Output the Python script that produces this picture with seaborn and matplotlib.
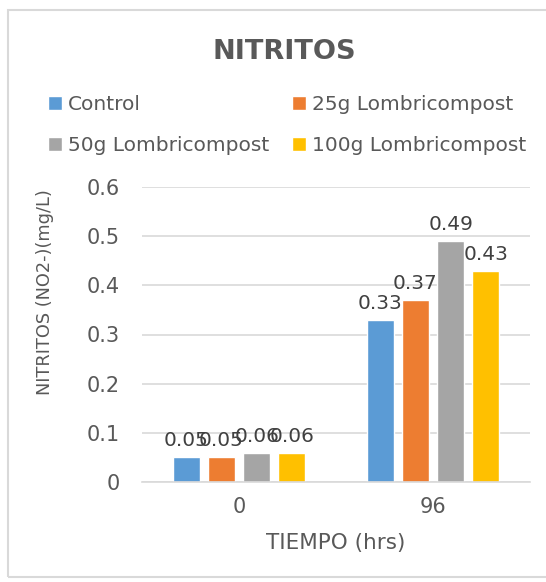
import matplotlib
matplotlib.use("Agg")
import matplotlib.pyplot as plt
import matplotlib.patches as mpatches
import pandas as pd
import seaborn as sns

# Chart data
tiempos = ["0", "96"]
series = ["Control", "25g Lombricompost", "50g Lombricompost", "100g Lombricompost"]
control = [0.05, 0.33]
lombri_25 = [0.05, 0.37]
lombri_50 = [0.06, 0.49]
lombri_100 = [0.06, 0.43]
y_ticks = [0, 0.1, 0.2, 0.3, 0.4, 0.5, 0.6]
colors = ["#5B9BD5", "#ED7D31", "#A5A5A5", "#FFC000"]

values = [control, lombri_25, lombri_50, lombri_100]
df = pd.DataFrame(
    [(t, s, v[i]) for s, v in zip(series, values) for i, t in enumerate(tiempos)],
    columns=["tiempo", "serie", "valor"],
)

sns.set_theme(style="white")
plt.rcParams["font.family"] = ["DejaVu Sans"]

W, H = 546, 582
fig = plt.figure(figsize=(W / 100, H / 100), dpi=100)
fig.patch.set_facecolor("white")
ax = fig.add_axes([142 / W, 1 - 482 / H, (530 - 142) / W, (482 - 187) / H])

sns.barplot(
    data=df, x="tiempo", y="valor", hue="serie", order=tiempos, hue_order=series,
    palette=colors, width=0.728, gap=0.236, saturation=1, ax=ax, legend=True,
)

handles, labels = ax.get_legend_handles_labels()
ax.get_legend().remove()

# Value labels above each bar
for cont in ax.containers:
    ax.bar_label(cont, labels=[f"{v:g}" for v in cont.datavalues], padding=5,
                 fontsize=14.5, color="#404040")

ax.set_ylim(0, 0.6)
ax.set_yticks(y_ticks)
ax.set_yticklabels([f"{t:g}" for t in y_ticks])
ax.yaxis.grid(True, color="#D9D9D9", linewidth=1.2)
ax.set_axisbelow(True)
for side in ["left", "right", "top"]:
    ax.spines[side].set_visible(False)
ax.spines["bottom"].set_color("#D9D9D9")
ax.spines["bottom"].set_linewidth(1.2)
ax.tick_params(axis="both", length=0, labelsize=15, labelcolor="#595959")
ax.tick_params(axis="y", pad=16)
ax.tick_params(axis="x", pad=11)

ax.set_xlabel("TIEMPO (hrs)", fontsize=15.5, color="#595959")
ax.xaxis.label.set_va("center")
ax.xaxis.set_label_coords(0.5, (482 - 543) / 295)
ax.set_ylabel("")
fig.text(45 / W, 1 - 292 / H, "NITRITOS (NO2-)(mg/L)", rotation=90,
         ha="center", va="center", fontsize=12.8, color="#595959")

fig.text(284 / W, 1 - 52 / H, "NITRITOS", ha="center", va="center",
         fontsize=19.5, fontweight="bold", color="#595959")

# Two-column legend above the plot, filled row by row
order = [0, 2, 1, 3]
fig.legend([handles[i] for i in order], [labels[i] for i in order], ncol=2,
           loc="upper left", bbox_to_anchor=(48 / W, 1 - 95 / H), frameon=False,
           fontsize=14.5, handlelength=0.7, handleheight=0.7, handletextpad=0.3,
           columnspacing=1.1, labelspacing=1.1, borderpad=0, borderaxespad=0,
           labelcolor="#595959")

# Chart border
fig.add_artist(mpatches.Rectangle((8 / W, 1 - 577 / H), 600 / W, (577 - 10) / H,
                                  transform=fig.transFigure, fill=False,
                                  edgecolor="#D9D9D9", linewidth=1.5))

fig.savefig("out.png", dpi=100, facecolor="white")
